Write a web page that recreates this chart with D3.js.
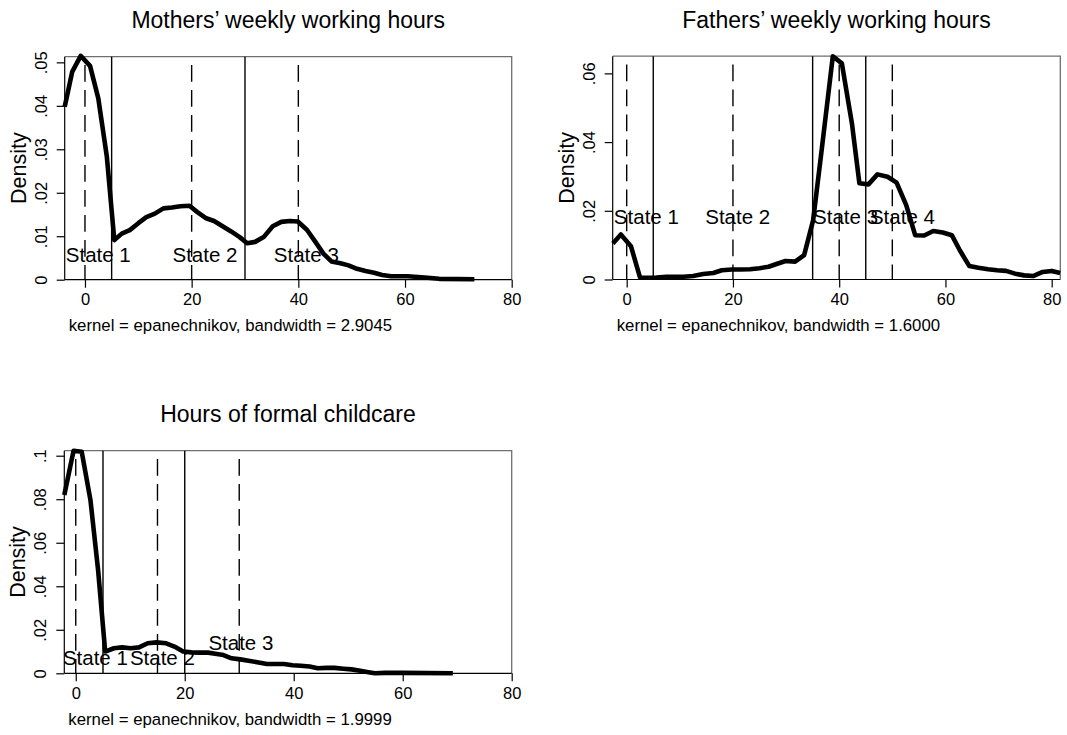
<!DOCTYPE html>
<html>
<head>
<meta charset="utf-8">
<script src="https://cdn.jsdelivr.net/npm/d3@7/dist/d3.min.js"></script>
<style>
  html, body { margin: 0; padding: 0; background: #fff; }
  svg { display: block; font-family: "Liberation Sans", Arial, Helvetica, sans-serif; }
</style>
</head>
<body>
<svg id="chart" width="1067" height="735"></svg>
<script>
// ---------------- DATA ----------------
// Mothers' weekly working hours (kernel density estimate)
const mothersHours = [-3.8, -2.4, -0.8, 0.95, 2.5, 4.1, 5.5, 6.9, 8.4, 10, 11.5, 13.1, 14.7, 16.3, 17.9, 19.6,
  21, 22.6, 24.2, 25.8, 27.4, 29, 30.4, 31.9, 33.5, 35.2, 36.8, 38.4, 39.9, 41.6, 43.2, 44.7, 46.2, 47.9,
  49.4, 51, 52.6, 54.2, 55.7, 57.4, 60.5, 63.7, 66.4, 73];
const mothersDensity = [0.0398, 0.0478, 0.0515, 0.0492, 0.0417, 0.0283, 0.0091, 0.0106, 0.0114, 0.0130, 0.0144,
  0.0152, 0.0164, 0.0166, 0.0169, 0.0170, 0.0156, 0.0142, 0.0135, 0.0123, 0.0111, 0.0098, 0.0084, 0.0087,
  0.0098, 0.0123, 0.0133, 0.0135, 0.0134, 0.0115, 0.0087, 0.0060, 0.0042, 0.0038, 0.0033, 0.0025, 0.0020,
  0.0016, 0.0011, 0.0008, 0.0008, 0.0005, 0.0002, 0.0001];

// Fathers' weekly working hours
const fathersHours = [-2.6, -1.1, 0.8, 2.5, 4.1, 5.6, 7.5, 10.7, 12.5, 14.4, 16.3, 17.9, 19.8, 21.3, 23.2, 25,
  26.7, 28.2, 29.9, 31.7, 33.4, 35.1, 36.7, 38.8, 40.5, 42.4, 43.8, 45.5, 47.2, 49.1, 50.8, 52.6, 54.3, 56,
  57.7, 59.5, 61.2, 62.7, 64.5, 66.2, 68, 69.7, 71.4, 73.1, 74.8, 76.5, 78.3, 80, 81.6];
const fathersDensity = [0.0105, 0.0131, 0.0097, 0.0006, 0.0005, 0.0006, 0.0008, 0.0008, 0.0010, 0.0016, 0.0019,
  0.0027, 0.0029, 0.0029, 0.0030, 0.0033, 0.0037, 0.0045, 0.0054, 0.0052, 0.0071, 0.0173, 0.0377, 0.0650,
  0.0629, 0.0454, 0.0280, 0.0277, 0.0306, 0.0299, 0.0282, 0.0217, 0.0129, 0.0128, 0.0141, 0.0137, 0.0129,
  0.0085, 0.0039, 0.0034, 0.0030, 0.0027, 0.0025, 0.0017, 0.0012, 0.0010, 0.0022, 0.0025, 0.0019];

// Hours of formal childcare
const childHours = [-2.1, -0.4, 1.1, 2.7, 4.1, 5.4, 7, 8.5, 10.1, 11.6, 13.2, 14.8, 16.6, 18.1, 19.7, 21.2,
  22.8, 24.3, 25.9, 27.1, 28.6, 30.2, 31.7, 33.3, 35.1, 36.7, 38.2, 39.8, 41.3, 42.9, 44.4, 46, 47.5, 49.1,
  50.6, 52.2, 53.7, 54.9, 56.8, 58.3, 59.9, 69.2];
const childDensity = [0.0819, 0.1023, 0.1018, 0.0796, 0.0475, 0.0100, 0.0115, 0.0119, 0.0115, 0.0119, 0.0138,
  0.0142, 0.0138, 0.0123, 0.0100, 0.0096, 0.0095, 0.0095, 0.0089, 0.0084, 0.0069, 0.0064, 0.0058, 0.0051,
  0.0043, 0.0043, 0.0043, 0.0037, 0.0035, 0.0031, 0.0023, 0.0025, 0.0025, 0.0021, 0.0018, 0.0012, 0.0005,
  0.0000, 0.0002, 0.0002, 0.0002, 0.0000];

// Vertical reference lines (thresholds solid, state centres dashed)
const mothersSolid = [5, 30];
const mothersDashed = [0, 20, 40];
const fathersSolid = [5, 35, 45];
const fathersDashed = [0, 20, 40, 50];
const childSolid = [5, 20];
const childDashed = [0, 15, 30];

// State labels
const mothersStates = ["State 1", "State 2", "State 3"];
const mothersStateX = [2.5, 22.5, 41.5];
const mothersStateY = [0.0057, 0.0057, 0.0057];
const fathersStates = ["State 1", "State 2", "State 3", "State 4"];
const fathersStateX = [3.7, 20.9, 41.2, 51.9];
const fathersStateY = [0.0181, 0.0181, 0.0181, 0.0181];
const childStates = ["State 1", "State 2", "State 3"];
const childStateX = [3.6, 15.9, 30.3];
const childStateY = [0.0070, 0.0070, 0.0139];

// Axis ticks
const xTicks13 = [0, 20, 40, 60, 80];
const xTicks2 = [0, 20, 40, 60, 80];
const mothersYTicks = [0, 0.01, 0.02, 0.03, 0.04, 0.05];
const mothersYLabels = ["0", ".01", ".02", ".03", ".04", ".05"];
const fathersYTicks = [0, 0.02, 0.04, 0.06];
const fathersYLabels = ["0", ".02", ".04", ".06"];
const childYTicks = [0, 0.02, 0.04, 0.06, 0.08, 0.1];
const childYLabels = ["0", ".02", ".04", ".06", ".08", ".1"];

// Titles and notes
const titles = ["Mothers’ weekly working hours", "Fathers’ weekly working hours", "Hours of formal childcare"];
const notes = ["kernel = epanechnikov, bandwidth = 2.9045",
               "kernel = epanechnikov, bandwidth = 1.6000",
               "kernel = epanechnikov, bandwidth = 1.9999"];
const yTitle = "Density";

// ---------------- LAYOUT ----------------
const panels = [
  { left: 64.7, right: 511.7, top: 56.7, bottom: 279.7, xDom: [-3.8, 80], yDom: [0, 0.0513],
    xs: mothersHours, ys: mothersDensity, solid: mothersSolid, dashed: mothersDashed,
    labels: mothersStates, lx: mothersStateX, ly: mothersStateY,
    xTicks: xTicks13, yTicks: mothersYTicks, yLabels: mothersYLabels, title: titles[0], note: notes[0] },
  { left: 612.7, right: 1060.3, top: 56.2, bottom: 279.5, xDom: [-2.635, 81.62], yDom: [0, 0.065],
    xs: fathersHours, ys: fathersDensity, solid: fathersSolid, dashed: fathersDashed,
    labels: fathersStates, lx: fathersStateX, ly: fathersStateY,
    xTicks: xTicks2, yTicks: fathersYTicks, yLabels: fathersYLabels, title: titles[1], note: notes[1] },
  { left: 64.3, right: 511.7, top: 450.7, bottom: 673.3, xDom: [-2.1, 80], yDom: [0, 0.1023],
    xs: childHours, ys: childDensity, solid: childSolid, dashed: childDashed,
    labels: childStates, lx: childStateX, ly: childStateY,
    xTicks: xTicks13, yTicks: childYTicks, yLabels: childYLabels, title: titles[2], note: notes[2] }
];

const FONT = "'Liberation Sans', Arial, sans-serif";
const svg = d3.select("#chart");

panels.forEach(p => {
  const g = svg.append("g");
  const x = d3.scaleLinear().domain(p.xDom).range([p.left, p.right]);
  const y = d3.scaleLinear().domain(p.yDom).range([p.bottom, p.top]);

  // plot region outline (top & right, gray)
  g.append("path")
    .attr("d", `M${p.left},${p.top}H${p.right}V${p.bottom}`)
    .attr("fill", "none").attr("stroke", "#6f6f6f").attr("stroke-width", 1.3);

  // vertical reference lines
  g.selectAll(".solid").data(p.solid).enter().append("line")
    .attr("x1", d => x(d)).attr("x2", d => x(d))
    .attr("y1", p.top).attr("y2", p.bottom)
    .attr("stroke", "#000").attr("stroke-width", 1.4);
  g.selectAll(".dashed").data(p.dashed).enter().append("line")
    .attr("x1", d => x(d)).attr("x2", d => x(d))
    .attr("y1", p.top).attr("y2", p.bottom)
    .attr("stroke", "#000").attr("stroke-width", 1.4)
    .attr("stroke-dasharray", "16.7 8.3").attr("stroke-dashoffset", 16.7);

  // density curve
  const pts = p.xs.map((v, i) => [v, p.ys[i]]);
  g.append("path")
    .datum(pts)
    .attr("d", d3.line().x(d => x(d[0])).y(d => y(d[1])))
    .attr("fill", "none").attr("stroke", "#000").attr("stroke-width", 4.6)
    .attr("stroke-linejoin", "round").attr("stroke-linecap", "butt");

  // x axis
  const xAxis = d3.axisBottom(x).tickValues(p.xTicks).tickSize(8).tickPadding(6).tickFormat(d3.format("d"));
  const xg = g.append("g").attr("transform", `translate(0,${p.bottom})`).call(xAxis);
  xg.select(".domain").attr("d", `M${p.left},0H${p.right}`).attr("stroke", "#000").attr("stroke-width", 1.2);
  xg.selectAll(".tick line").attr("stroke", "#000").attr("stroke-width", 1.2);
  xg.selectAll(".tick text").attr("font-size", 16.5).attr("fill", "#000")
    .attr("font-family", FONT)
    .attr("dy", null).attr("y", 25.7);

  // y axis
  const yAxis = d3.axisLeft(y).tickValues(p.yTicks).tickSize(8).tickFormat((d, i) => p.yLabels[i]);
  const yg = g.append("g").attr("transform", `translate(${p.left},0)`).call(yAxis);
  yg.select(".domain").attr("d", `M0,${p.bottom}V${p.top}`).attr("stroke", "#000").attr("stroke-width", 1.2);
  yg.selectAll(".tick line").attr("stroke", "#000").attr("stroke-width", 1.2);
  yg.selectAll(".tick text")
    .attr("font-size", 16.5).attr("fill", "#000")
    .attr("font-family", FONT)
    .attr("x", null).attr("dy", null)
    .attr("text-anchor", "middle")
    .attr("transform", "translate(-18,0) rotate(-90)");

  // y title
  g.append("text")
    .attr("transform", `translate(${p.left - 39},${(p.top + p.bottom) / 2}) rotate(-90)`)
    .attr("text-anchor", "middle").attr("font-size", 21.5).attr("fill", "#000")
    .text(yTitle);

  // state labels
  g.selectAll(".state").data(p.labels).enter().append("text")
    .attr("x", (d, i) => x(p.lx[i])).attr("y", (d, i) => y(p.ly[i]))
    .attr("dy", "0.35em")
    .attr("text-anchor", "middle").attr("font-size", 20.5).attr("fill", "#000")
    .text(d => d);

  // title
  g.append("text")
    .attr("x", (p.left + p.right) / 2).attr("y", p.top - 28.3)
    .attr("text-anchor", "middle").attr("font-size", 23).attr("fill", "#000")
    .text(p.title);

  // note
  g.append("text")
    .attr("x", p.left + 4).attr("y", p.bottom + 51.5)
    .attr("font-size", 16.8).attr("fill", "#000")
    .text(p.note);
});
</script>
</body>
</html>
